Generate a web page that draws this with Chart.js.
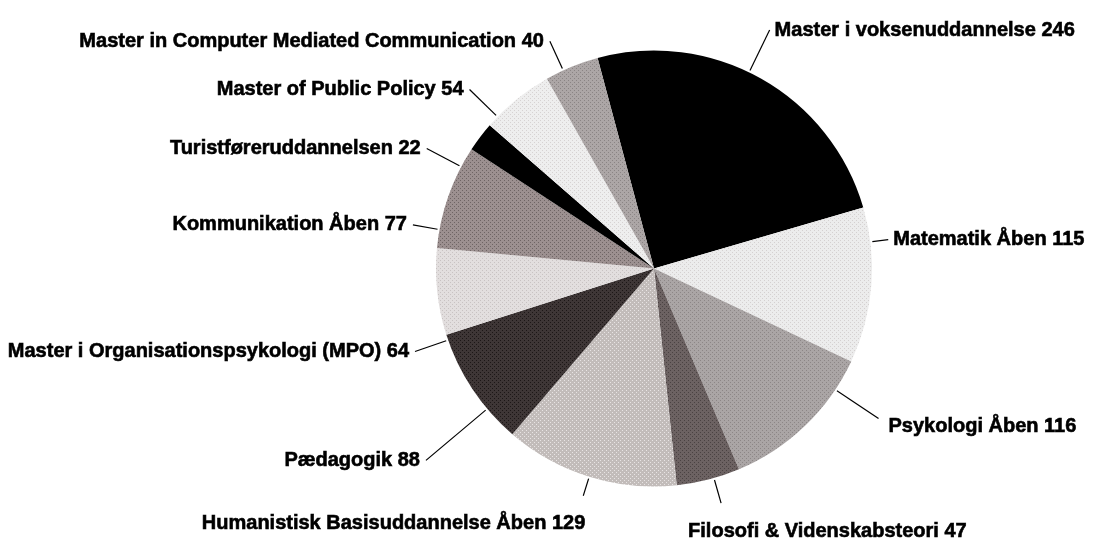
<!DOCTYPE html>
<html>
<head>
<meta charset="utf-8">
<script src="https://cdn.jsdelivr.net/npm/chart.js@4"></script>
<style>
  html, body { margin: 0; padding: 0; background: #fff; }
  #wrap { width: 1095px; height: 542px; }
</style>
</head>
<body>
<div id="wrap"><canvas id="grafico" width="1095" height="542"></canvas></div>
<script>
const uddannelser = [
  'Master i voksenuddannelse',
  'Matematik Åben',
  'Psykologi Åben',
  'Filosofi & Videnskabsteori',
  'Humanistisk Basisuddannelse Åben',
  'Pædagogik',
  'Master i Organisationspsykologi (MPO)',
  'Kommunikation Åben',
  'Turistføreruddannelsen',
  'Master of Public Policy',
  'Master in Computer Mediated Communication'
];
const antal = [246, 115, 116, 47, 129, 88, 64, 77, 22, 54, 40];

// base / dot colours for the hatched look
const farver = [
  ['#000000', '#000000'],
  ['#ececec', '#d4d0d0'],
  ['#aaa5a5', '#8c8686'],
  ['#6c6262', '#4a4242'],
  ['#c2bcba', '#e8e4e4'],
  ['#3e3636', '#1c1616'],
  ['#e2dede', '#c8c2c2'],
  ['#9c9090', '#6e6464'],
  ['#000000', '#000000'],
  ['#eeeeee', '#d6d2d2'],
  ['#aca6a6', '#8a8484']
];

// label placement tweaks (degrees off the slice middle, leader length in px)
const vinkelJust = [-3.5, -11.5, -12.4, -1.5, 0, -6.5, -13, -9, -9.3, -6.7, -2.4];
const linjeLaengde = [45, 16, 50, 24, 18, 78, 33, 25, 37, 37, 30];

function lavMoenster(bund, prik) {
  const c = document.createElement('canvas');
  c.width = 4; c.height = 4;
  const g = c.getContext('2d');
  g.fillStyle = bund;
  g.fillRect(0, 0, 4, 4);
  g.fillStyle = prik;
  g.fillRect(0, 0, 1, 1);
  g.fillRect(2, 2, 1, 1);
  return g.createPattern(c, 'repeat');
}

const etiketter = {
  id: 'etiketter',
  afterDraw(chart) {
    const ctx = chart.ctx;
    const meta = chart.getDatasetMeta(0);
    ctx.save();
    ctx.fillStyle = '#000';
    ctx.strokeStyle = '#000';
    ctx.font = 'bold 20px "Liberation Sans", Arial, sans-serif';
    meta.data.forEach((arc, i) => {
      const p = arc.getProps(['x', 'y', 'startAngle', 'endAngle', 'outerRadius'], true);
      const a = (p.startAngle + p.endAngle) / 2 + vinkelJust[i] * Math.PI / 180;
      const dx = Math.cos(a), dy = Math.sin(a);
      const r1 = p.outerRadius + 2, r2 = p.outerRadius + 2 + linjeLaengde[i];
      const x1 = p.x + dx * r1, y1 = p.y + dy * r1;
      const x2 = p.x + dx * r2, y2 = p.y + dy * r2;
      ctx.lineWidth = 1.2;
      ctx.beginPath();
      ctx.moveTo(x1, y1);
      ctx.lineTo(x2, y2);
      ctx.stroke();
      const tekst = uddannelser[i] + ' ' + antal[i];
      ctx.textBaseline = 'middle';
      let tx, ty;
      ctx.textAlign = dx >= 0 ? 'left' : 'right';
      if (dy > 0.9) {
        ty = y2 + 28;
        tx = dx >= 0 ? x2 - 33 : x2 + 2;
      } else if (dx >= 0) {
        const nedad = dy > 0.4;
        ty = dy < -0.9 ? y2 - 4 : (nedad ? y2 + 8 : y2);
        tx = x2 + (nedad ? 10 : 5);
      } else {
        ty = y2;
        tx = x2 - 6;
      }
      ctx.lineWidth = 0.6;
      ctx.fillText(tekst, tx, ty);
      ctx.strokeText(tekst, tx, ty);
    });
    ctx.restore();
  }
};

new Chart(document.getElementById('grafico').getContext('2d'), {
  type: 'pie',
  data: {
    labels: uddannelser,
    datasets: [{
      data: antal,
      backgroundColor: farver.map(f => lavMoenster(f[0], f[1])),
      borderWidth: 0
    }]
  },
  options: {
    responsive: false,
    animation: false,
    rotation: -15,
    layout: { padding: { top: 50, bottom: 55, left: 436, right: 223 } },
    plugins: {
      legend: { display: false },
      tooltip: { enabled: false }
    }
  },
  plugins: [etiketter]
});
</script>
</body>
</html>
